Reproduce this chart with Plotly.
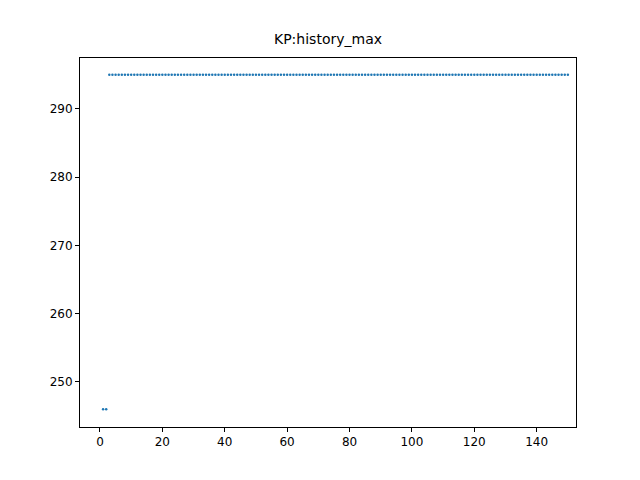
import plotly.graph_objects as go

x_low = [1, 2]
y_low = [246, 246]
x_high = list(range(3, 151))
y_high = [295] * len(x_high)
xs = x_low + x_high
ys = y_low + y_high

fig = go.Figure(go.Scatter(x=xs, y=ys, mode="markers",
                           marker=dict(color="#1f77b4", size=2.5)))
ax = dict(showgrid=False, zeroline=False, showline=True, mirror=True, linecolor="black",
          ticks="outside", ticklen=4, tickcolor="black", tickfont=dict(size=12, color="black"))
fig.update_layout(
    width=640, height=480, template="none",
    paper_bgcolor="white", plot_bgcolor="white",
    font=dict(family="DejaVu Sans"),
    title=dict(text="KP:history_max", x=0.5, y=0.945, xanchor="center", font=dict(size=14, color="black")),
    margin=dict(l=72, r=72, t=50, b=61),
    xaxis=dict(range=[-6.4, 152.6], tickvals=[0, 20, 40, 60, 80, 100, 120, 140], **ax),
    yaxis=dict(range=[243.4, 297.47], tickvals=[250, 260, 270, 280, 290], **ax),
    showlegend=False,
)
fig.write_html("out.html")
